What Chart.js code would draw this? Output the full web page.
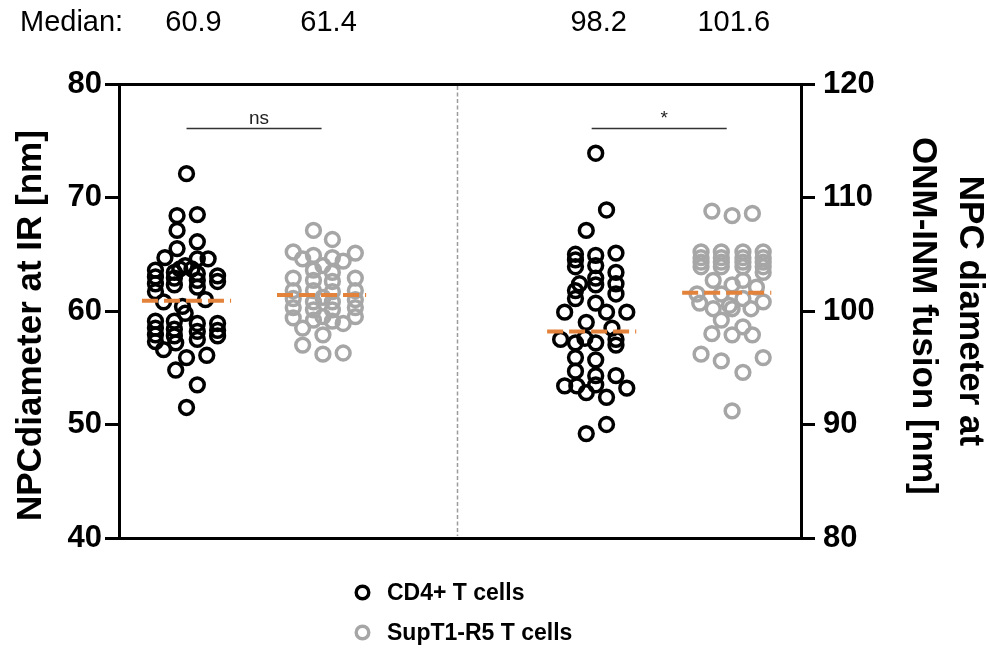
<!DOCTYPE html>
<html><head><meta charset="utf-8">
<script src="https://cdn.jsdelivr.net/npm/chart.js@4"></script>
<style>html,body{margin:0;padding:0;background:#fff;}#wrap{width:990px;height:648px;}</style>
</head><body><div id="wrap"><canvas id="c" width="990" height="648"></canvas></div>
<script>
// ---------- data ----------
const seriesNames = ['CD4+ T cells', 'SupT1-R5 T cells'];
const groupPositions = [1, 2, 4, 5];
const medians = [60.9, 61.4, 98.2, 101.6];
const medianLabel = 'Median:';
const leftTicks = [40, 50, 60, 70, 80];
const rightTicks = [80, 90, 100, 110, 120];
const significance = ['ns', '*'];
const leftTitle = 'NPCdiameter at IR [nm]';
const rightTitle = ['NPC diameter at', 'ONM-INM fusion [nm]'];

const cd4IR = [72.1,68.4,68.5,67.1,66.1,65.5,64.7,64.6,64.6,64.0,63.7,63.7,63.6,63.0,62.4,61.7,63.4,62.9,62.3,63.3,62.7,62.1,63.1,62.6,60.8,60.4,61.0,59.8,59.1,58.5,57.9,57.3,59.1,58.4,57.8,58.9,58.2,57.5,58.9,58.3,57.8,56.6,57.2,56.1,55.9,54.8,53.5,51.5];
const cd4IRJitter = [0,-0.07,0.08,-0.07,0.08,-0.07,-0.16,0.08,0.16,-0.01,-0.05,0.04,-0.23,-0.23,-0.23,-0.23,-0.09,-0.09,-0.09,0.08,0.08,0.08,0.23,0.23,-0.17,-0.03,0.14,-0.01,-0.23,-0.23,-0.23,-0.23,-0.09,-0.09,-0.09,0.08,0.08,0.08,0.23,0.23,0.23,-0.17,-0.08,0.15,0,-0.08,0.08,0];

const supIR = [67.1,66.3,65.2,64.6,64.9,64.7,64.4,65.1,64.0,63.6,63.4,62.9,62.9,62.7,62.6,61.8,61.8,61.8,61.7,61.2,61.1,61.0,60.8,60.8,60.3,60.3,60.1,60.1,59.5,59.4,59.5,59.2,59.1,58.9,58.5,57.9,57.0,56.2,56.3];
const supIRJitter = [-0.06,0.08,-0.21,-0.14,-0.06,0.08,0.16,0.25,0.01,-0.06,0.08,-0.21,0.25,-0.06,0.08,-0.21,0.25,-0.06,0.08,0.01,-0.21,0.25,-0.06,0.08,-0.21,0.25,-0.06,0.08,0.01,-0.21,0.25,-0.06,0.08,0.16,-0.14,0.01,-0.14,0.01,0.16];

const cd4Fus = [113.9,108.9,107.1,105.0,104.5,103.9,104.9,104.0,105.1,103.4,102.4,101.5,102.9,102.3,102.4,101.8,101.1,100.7,99.9,99.9,99.9,99.0,98.5,97.5,97.2,97.6,97.2,97.5,97.0,95.9,95.7,94.7,94.3,94.3,93.4,93.4,92.8,93.5,92.4,93.2,90.0,89.2];
const cd4FusJitter = [0.03,0.11,-0.04,-0.12,-0.12,-0.12,0.03,0.03,0.18,0.18,0.18,0.18,0.03,0.03,-0.09,-0.12,-0.12,0.03,-0.2,0.11,0.26,-0.04,0.15,-0.23,-0.12,-0.05,0.03,0.18,0.18,-0.12,0.03,-0.12,0.03,0.18,-0.2,-0.11,-0.04,0.03,0.11,0.26,0.11,-0.04];

const supFus = [108.8,108.4,108.6,105.2,104.7,104.3,103.9,105.2,104.7,104.3,103.9,105.2,104.7,104.3,103.9,105.2,104.7,104.3,103.9,103.4,102.7,102.3,102.7,102.1,101.5,101.5,100.7,100.2,100.5,101.1,100.8,100.2,99.2,100.2,98.0,97.9,98.6,97.9,96.2,95.6,95.9,94.6,91.2];
const supFusJitter = [-0.11,0.04,0.19,-0.19,-0.19,-0.19,-0.19,-0.04,-0.04,-0.04,-0.04,0.12,0.12,0.12,0.12,0.27,0.27,0.27,0.27,0.27,-0.10,0.04,0.12,0.22,-0.22,-0.04,-0.2,-0.10,0.02,0.12,0.27,0.18,-0.04,0.04,-0.11,0.04,0.12,0.19,-0.19,-0.04,0.27,0.12,0.04];

// ---------- styling ----------
const FONT = "'Liberation Sans', Arial, Helvetica, sans-serif";
const BLACK = '#000000', GRAY = '#A6A6A6', ORANGE = '#E3823B';

function pts(vals, jit, pos) { return vals.map((v, i) => ({x: pos + jit[i], y: v})); }
function medLine(m, pos) { return [{x: pos - 0.33, y: m}, {x: pos + 0.33, y: m}]; }

function scatterDs(label, data, color, axis) {
  return {type: 'scatter', label, data, yAxisID: axis, order: 1,
    pointStyle: 'circle', pointRadius: 6.9, pointHoverRadius: 6.9,
    pointBorderWidth: 3.5, pointHoverBorderWidth: 3.5,
    borderColor: color, pointBorderColor: color,
    backgroundColor: 'rgba(0,0,0,0)', pointBackgroundColor: 'rgba(0,0,0,0)', clip: false};
}
function medianDs(i, axis) {
  return {type: 'line', label: 'median' + i, data: medLine(medians[i], groupPositions[i]), yAxisID: axis, order: 0,
    borderColor: ORANGE, borderWidth: 4, borderDash: [16, 6], pointRadius: 0, fill: false, tension: 0};
}

const datasets = [
  medianDs(0, 'y'), medianDs(1, 'y'), medianDs(2, 'y2'), medianDs(3, 'y2'),
  scatterDs(seriesNames[0], pts(cd4IR, cd4IRJitter, groupPositions[0]), BLACK, 'y'),
  scatterDs(seriesNames[1], pts(supIR, supIRJitter, groupPositions[1]), GRAY, 'y'),
  scatterDs(seriesNames[0], pts(cd4Fus, cd4FusJitter, groupPositions[2]), BLACK, 'y2'),
  scatterDs(seriesNames[1], pts(supFus, supFusJitter, groupPositions[3]), GRAY, 'y2')
];

const annot = {
  id: 'annot',
  beforeDatasetsDraw(chart) {
    const {ctx, chartArea: a, scales: {x}} = chart;
    const px = Math.round(x.getPixelForValue(3)) + 0.5;
    ctx.save();
    ctx.strokeStyle = '#9b9b9b'; ctx.lineWidth = 1.5; ctx.setLineDash([4, 2.5]);
    ctx.beginPath(); ctx.moveTo(px, a.top + 2); ctx.lineTo(px, a.bottom - 2); ctx.stroke();
    ctx.restore();
  },
  afterDraw(chart) {
    const {ctx, scales: {x, y, y2}} = chart;
    ctx.save();
    // medians header
    ctx.fillStyle = '#000'; ctx.font = '29px ' + FONT; ctx.textBaseline = 'middle';
    ctx.textAlign = 'left'; ctx.fillText(medianLabel, 20, 23);
    ctx.textAlign = 'center';
    medians.forEach((m, i) => ctx.fillText(m.toFixed(1), x.getPixelForValue(groupPositions[i]) + 7, 23));
    // significance brackets
    const brackets = [[0, 1, y, 76.1], [2, 3, y2, 116.1]];
    brackets.forEach((b, k) => {
      const x1 = x.getPixelForValue(groupPositions[b[0]]);
      const x2 = x.getPixelForValue(groupPositions[b[1]]);
      const yy = Math.round(b[2].getPixelForValue(b[3])) + 0.5;
      ctx.strokeStyle = '#333'; ctx.lineWidth = 1.3;
      ctx.beginPath(); ctx.moveTo(x1, yy); ctx.lineTo(x2, yy); ctx.stroke();
      ctx.fillStyle = '#222'; ctx.font = '19px ' + FONT; ctx.textAlign = 'center'; ctx.textBaseline = 'alphabetic';
      ctx.fillText(significance[k], (x1 + x2) / 2 + 5, yy - 5);
    });
    // legend
    const legendColors = [BLACK, GRAY];
    seriesNames.forEach((name, i) => {
      const cy = 592.5 + i * 40;
      ctx.beginPath(); ctx.arc(362.5, cy, 6.3, 0, Math.PI * 2);
      ctx.strokeStyle = legendColors[i]; ctx.lineWidth = 3.4; ctx.stroke();
      ctx.fillStyle = '#000'; ctx.font = 'bold 23px ' + FONT; ctx.textAlign = 'left'; ctx.textBaseline = 'middle';
      ctx.fillText(name, 387, cy + 1);
    });
    ctx.restore();
  }
};

const yCommon = (ticksArr, side) => ({
  type: 'linear',
  position: side,
  min: ticksArr[0], max: ticksArr[ticksArr.length - 1],
  afterBuildTicks(s) { s.ticks = ticksArr.map(v => ({value: v})); },
  ticks: {color: '#000', font: {family: FONT, size: 31, weight: 'bold'}, padding: side === 'left' ? 3 : 8},
  grid: {drawOnChartArea: false, drawTicks: true, tickLength: 14, lineWidth: 3, color: '#000'},
  border: {display: true, width: 3, color: '#000'}
});

// trailing / leading spaces only nudge the centred titles to the reference's vertical placement
const yLeft = Object.assign(yCommon(leftTicks, 'left'), {
  title: {display: true, text: leftTitle + '\u00a0\u00a0\u00a0', color: '#000', font: {family: FONT, size: 35, weight: 'bold', lineHeight: 1.2}, padding: {top: 10, bottom: 0}},
  afterFit(s) { s.width = 119; }
});
const yRight = Object.assign(yCommon(rightTicks, 'right'), {
  title: {display: true, text: [rightTitle[0], '\u00a0' + rightTitle[1]], color: '#000', font: {family: FONT, size: 35, weight: 'bold', lineHeight: 1.34}, padding: {top: -3, bottom: 0}},
  afterFit(s) { s.width = 189; }
});

new Chart(document.getElementById('c'), {
  data: {datasets},
  plugins: [annot],
  options: {
    responsive: false,
    animation: false,
    devicePixelRatio: 1,
    events: [],
    layout: {padding: {top: 84, bottom: 110, left: 0, right: 0}},
    plugins: {legend: {display: false}, tooltip: {enabled: false}},
    scales: {
      x: {type: 'linear', position: 'bottom', min: 0.5, max: 5.55,
        ticks: {display: false}, grid: {display: false},
        border: {display: true, width: 3, color: '#000'}, afterFit(s) { s.height = 0; }},
      xTop: {type: 'linear', axis: 'x', position: 'top', min: 0.5, max: 5.55,
        ticks: {display: false}, grid: {display: false},
        border: {display: true, width: 3, color: '#000'}, afterFit(s) { s.height = 0; }},
      y: yLeft,
      y2: yRight
    }
  }
});
</script>
</body></html>
